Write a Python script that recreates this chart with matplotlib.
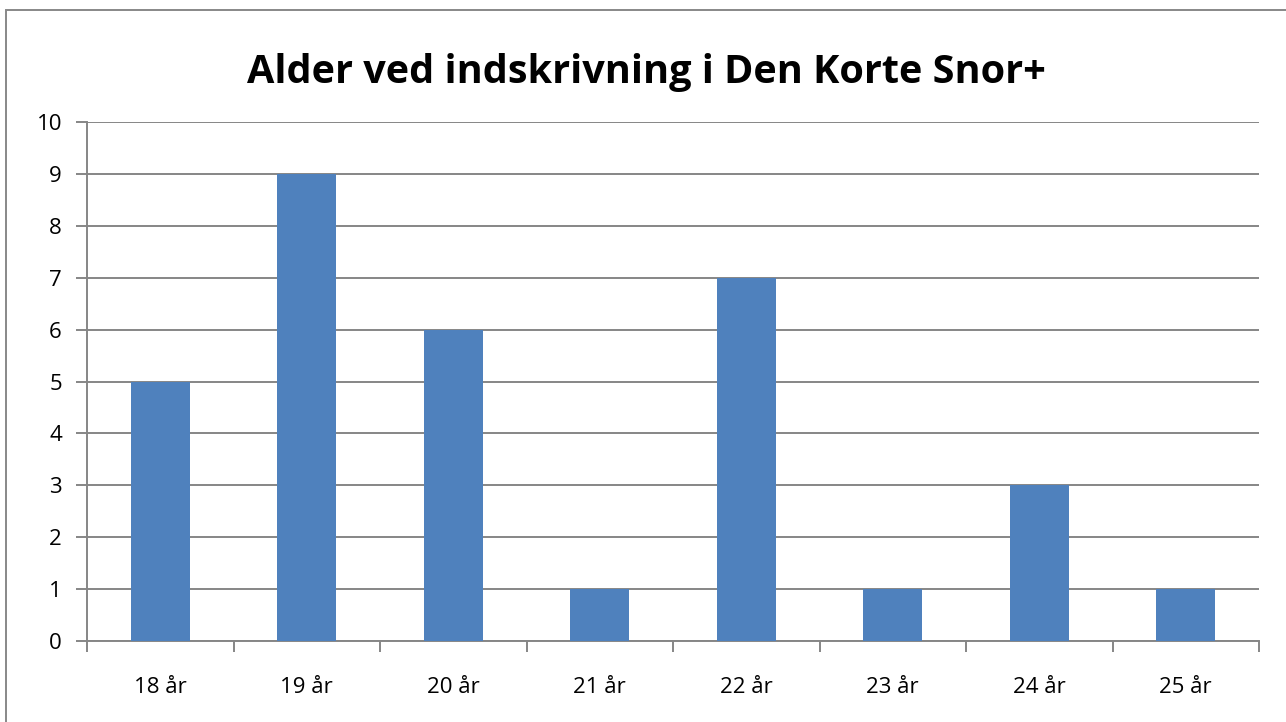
import matplotlib
matplotlib.use("Agg")
import matplotlib.pyplot as plt
from matplotlib.patches import Rectangle

categories = ["18 år", "19 år", "20 år", "21 år", "22 år", "23 år", "24 år", "25 år"]
values = [5, 9, 6, 1, 7, 1, 3, 1]
yticks = list(range(0, 11))
title = "Alder ved indskrivning i Den Korte Snor+"

W, H = 1286, 722
fig = plt.figure(figsize=(W / 100, H / 100), dpi=100)
plt.rcParams['font.family'] = ['Open Sans', 'DejaVu Sans']

# outer chart border
fig.patches.append(Rectangle((6 / W, -0.1), 1.2, (H - 10) / H + 0.1, transform=fig.transFigure,
                             fill=False, edgecolor='#888888', linewidth=1.4))

left, right, top, bottom = 87, 1259, 122, 641
ax = fig.add_axes([left / W, 1 - bottom / H, (right - left) / W, (bottom - top) / H])

grid_c = '#868686'
x = list(range(len(categories)))
ax.bar(x, values, width=0.4, color='#4F81BD', zorder=3)
ax.set_xlim(-0.5, len(categories) - 0.5)
ax.set_ylim(0, 10)
ax.set_yticks(yticks)
ax.set_yticklabels([str(t) for t in yticks], fontsize=16)
ax.yaxis.grid(True, color=grid_c, linewidth=1.4, zorder=0)
ax.set_axisbelow(True)

ax.set_xticks(x)
ax.set_xticklabels(categories, fontsize=16)
ax.tick_params(axis='x', length=0, pad=26)
ax.set_xticks([i - 0.5 for i in range(len(categories) + 1)], minor=True)
ax.tick_params(axis='x', which='minor', length=8, width=1.4, color=grid_c, direction='out')
ax.tick_params(axis='y', length=8, width=1.4, color=grid_c, direction='out', pad=10)

for s in ['top', 'right']:
    ax.spines[s].set_visible(False)
for s in ['left', 'bottom']:
    ax.spines[s].set_color(grid_c)
    ax.spines[s].set_linewidth(1.4)

fig.text(646 / W, 1 - 73 / H, title, ha='center', va='center', fontsize=28.5, fontweight='bold')

fig.savefig("out.png", dpi=100)
